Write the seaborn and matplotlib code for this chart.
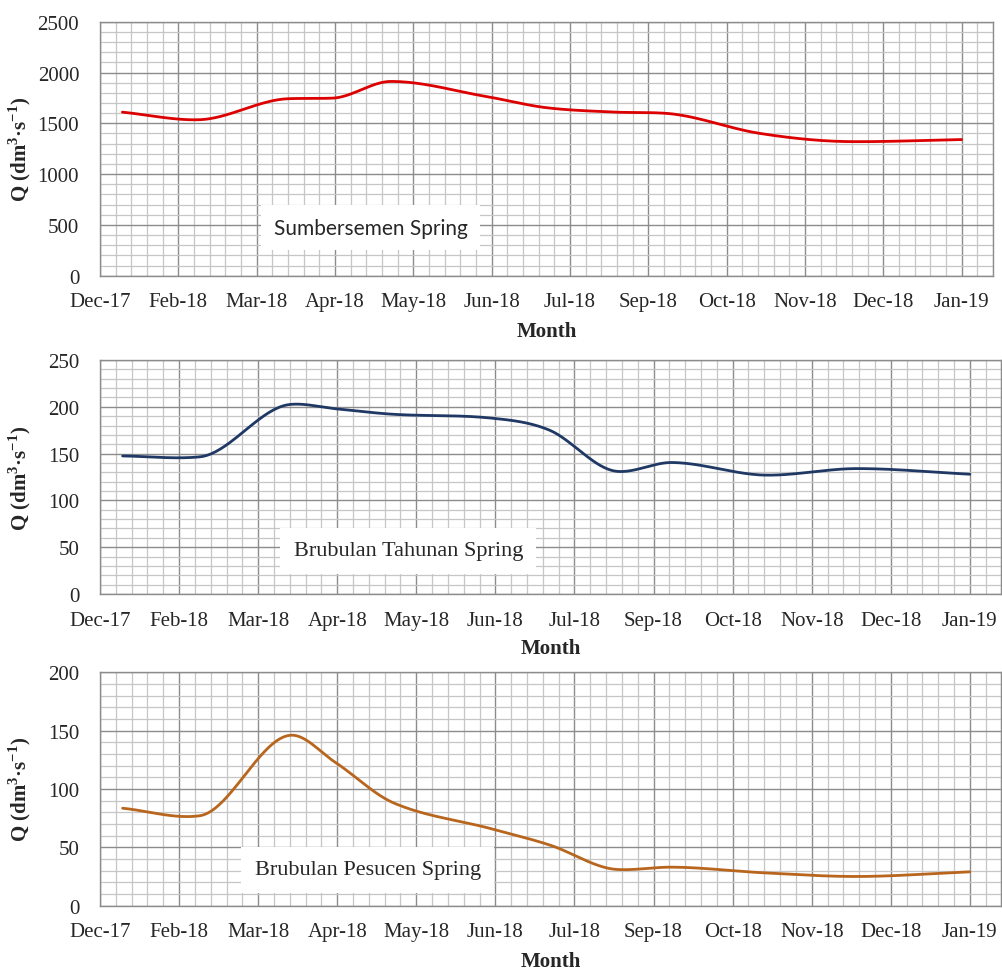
import numpy as np
import pandas as pd
import seaborn as sns
import matplotlib.pyplot as plt
import matplotlib.dates as mdates
from matplotlib.ticker import MultipleLocator, FixedLocator

# Sampling dates and discharge (dm3/s) of each spring
sample_dates = ['2018-01-09', '2018-02-12', '2018-03-24', '2018-04-13', '2018-05-09', '2018-06-21',
                '2018-07-17', '2018-08-16', '2018-09-09', '2018-10-21', '2018-11-30', '2019-01-19']
q_sumbersemen = [1610, 1535, 1742, 1748, 1912, 1762, 1655, 1611, 1598, 1400, 1320, 1340]
q_tahunan = [147.5, 146.5, 202.5, 198, 192, 188, 175, 131, 140.5, 127, 134, 128]
q_pesucen = [83.5, 77, 146, 123, 88, 66, 52, 31, 33, 28, 25, 29]

spring_names = ['Sumbersemen Spring', 'Brubulan Tahunan Spring', 'Brubulan Pesucen Spring']
y_max = [2500, 250, 200]
y_major = [500, 50, 50]
y_minor = [100, 10, 10]
line_colors = ['#dc0000', '#1f3864', '#b8651e']

axis_start = pd.Timestamp('2017-12-30')
axis_end = pd.Timestamp('2019-02-02')


def smooth_curve(x, y, n=40):
    # smoothed line through the points: cubic hermite, slopes from the neighbours,
    # damped at local peaks/dips so the curve only overshoots a little
    x = np.asarray(x, float)
    y = np.asarray(y, float)
    d = np.diff(y) / np.diff(x)
    m = np.empty_like(y)
    m[0], m[-1] = d[0], d[-1]
    for k in range(1, len(y) - 1):
        mk = (y[k + 1] - y[k - 1]) / (x[k + 1] - x[k - 1])
        if d[k - 1] * d[k] <= 0:
            m[k] = 0.3 * mk
        else:
            lim = 3 * min(abs(d[k - 1]), abs(d[k]))
            m[k] = np.sign(mk) * min(abs(mk), lim)
    t = np.linspace(0, 1, n)
    xs, ys = [], []
    for k in range(len(y) - 1):
        h = x[k + 1] - x[k]
        c = [y[k], y[k] + m[k] * h / 3, y[k + 1] - m[k + 1] * h / 3, y[k + 1]]
        seg = (1 - t) ** 3 * c[0] + 3 * (1 - t) ** 2 * t * c[1] + 3 * (1 - t) * t ** 2 * c[2] + t ** 3 * c[3]
        start = 0 if k == 0 else 1
        xs.append((x[k] + h * t)[start:])
        ys.append(seg[start:])
    return np.concatenate(xs), np.concatenate(ys)


sns.set_style('white')
plt.rcParams['font.family'] = ['Liberation Serif', 'DejaVu Serif']
plt.rcParams['mathtext.fontset'] = 'custom'
plt.rcParams['mathtext.rm'] = 'Liberation Serif'
plt.rcParams['mathtext.bf'] = 'Liberation Serif:bold'

fig = plt.figure(figsize=(10.02, 9.70), dpi=100)

# axes rectangles in figure fractions (left, bottom, width, height)
boxes = [[0.0998, 0.7147, 0.8912, 0.2619],
         [0.0998, 0.3866, 0.8997, 0.2412],
         [0.0998, 0.0653, 0.8997, 0.2406]]
label_pos = [(0.303, 0.188, 'Lato'), (0.342, 0.184, 'Liberation Serif'), (0.297, 0.153, 'Liberation Serif')]
month_y = [-0.178, -0.188, -0.194]

dates = pd.to_datetime(sample_dates)
days = (dates - axis_start).days.values
major_x = pd.date_range(axis_start, periods=12, freq='35D')
minor_x = pd.date_range(axis_start, axis_end, freq='7D')

for i, q in enumerate([q_sumbersemen, q_tahunan, q_pesucen]):
    ax = fig.add_axes(boxes[i])
    ax.set_axisbelow(True)

    xs, ys = smooth_curve(days, q)
    curve = pd.DataFrame({'date': axis_start + pd.to_timedelta(xs, unit='D'), 'q': ys})
    sns.lineplot(data=curve, x='date', y='q', ax=ax, sort=False, estimator=None,
                 color=line_colors[i], linewidth=2.0)

    ax.set_xlim(axis_start, axis_end)
    ax.set_ylim(0, y_max[i])
    ax.xaxis.set_major_locator(FixedLocator(mdates.date2num(major_x)))
    ax.xaxis.set_minor_locator(FixedLocator(mdates.date2num(minor_x)))
    ax.xaxis.set_major_formatter(mdates.DateFormatter('%b-%y'))
    ax.yaxis.set_major_locator(MultipleLocator(y_major[i]))
    ax.yaxis.set_minor_locator(MultipleLocator(y_minor[i]))

    ax.grid(which='major', color='#8c8c8c', linewidth=1.0)
    ax.grid(which='minor', color='#c6c6c6', linewidth=0.9)
    for s in ax.spines.values():
        s.set_color('#8c8c8c')
        s.set_linewidth(1.0)

    ax.tick_params(axis='x', which='major', length=6, width=1, color='#8c8c8c', pad=6, labelsize=15)
    ax.tick_params(axis='y', which='major', length=5, width=1, color='#8c8c8c', pad=10, labelsize=15)
    ax.tick_params(which='minor', length=0)

    ax.set_xlabel('Month', fontsize=15, fontweight='bold')
    ax.set_ylabel(r'Q (dm$^{\mathbf{3}}$·s$^{\mathbf{-1}}$)', fontsize=15, fontweight='bold')
    ax.xaxis.set_label_coords(0.5, month_y[i])
    ax.yaxis.set_label_coords(-67 / (boxes[i][2] * 1002), 0.5)

    lx, ly, fam = label_pos[i]
    ax.text(lx, ly, spring_names[i], transform=ax.transAxes, ha='center', va='center',
            fontsize=15 if i == 0 else 16, family=fam,
            bbox=dict(boxstyle='square,pad=0.6', facecolor='white', edgecolor='none'))

fig.savefig('out.png', dpi=100)
